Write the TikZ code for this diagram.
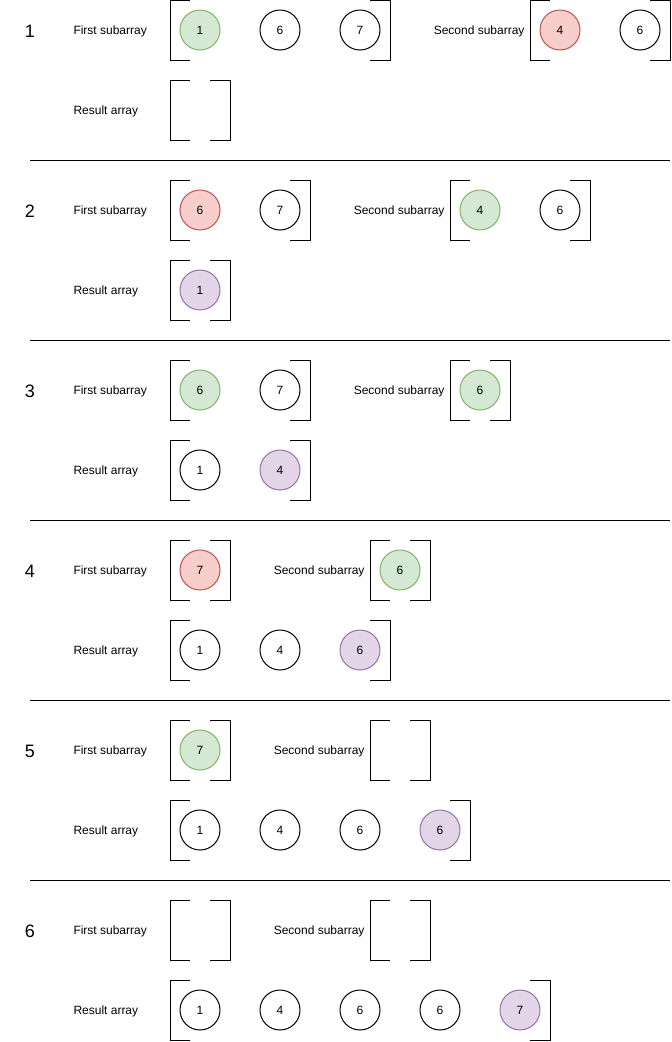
\documentclass[tikz,border=0pt]{standalone}
\usepackage{fontspec}
\setmainfont{Liberation Sans}
\usetikzlibrary{positioning}
\definecolor{pickfill}{HTML}{F8CECC}
\definecolor{pickline}{HTML}{B85450}
\definecolor{nextfill}{HTML}{D5E8D4}
\definecolor{nextline}{HTML}{82B366}
\definecolor{resfill}{HTML}{E1D5E7}
\definecolor{resline}{HTML}{9673A6}
% bracket pair round an array: left x, right x, middle y
\newcommand{\arrbox}[3]{%
  \draw (#1+20,#3-30) -| (#1,#3+30) -- (#1+20,#3+30);
  \draw (#2-20,#3-30) -| (#2,#3+30) -- (#2-20,#3+30);}

\begin{document}
\begin{tikzpicture}[x=1pt, y=-1pt, line width=1pt,
  every node/.style={font=\fontsize{12}{14}\selectfont},
  lbl/.style={inner sep=0pt, anchor=base west},
  lblr/.style={inner sep=0pt, anchor=base east},
  stepno/.style={inner sep=0pt, anchor=base, font=\fontsize{18}{20}\selectfont},
  elem/.style={circle, draw, minimum size=40pt, inner sep=0pt},
  pickel/.style={elem, fill=pickfill, draw=pickline},
  nextel/.style={elem, fill=nextfill, draw=nextline},
  resel/.style={elem, fill=resfill, draw=resline}]
\fill[white] (0,0) rectangle (672,1042);
\useasboundingbox (0,0) rectangle (672,1042);

% step 1
\node[stepno] (n1) at (30,37.5) {1};
\node[lbl] (s1first) at (73,34.3) {First subarray};
\arrbox{170}{390}{30}
\node[nextel] (s1a1) at (200,30) {1};
\node[elem] (s1a2) at (280,30) {6};
\node[elem] (s1a3) at (360,30) {7};
\node[lblr] (s1second) at (525,34.3) {Second subarray};
\arrbox{530}{670}{30}
\node[pickel] (s1b1) at (560,30) {4};
\node[elem] (s1b2) at (640,30) {6};
\node[lbl] (s1res) at (73,114.3) {Result array};
\arrbox{170}{230}{110}
\draw (30,160) -- (670,160);

% step 2
\node[stepno] (n2) at (30,217.5) {2};
\node[lbl] (s2first) at (73,214.3) {First subarray};
\arrbox{170}{310}{210}
\node[pickel] (s2a1) at (200,210) {6};
\node[elem] (s2a2) at (280,210) {7};
\node[lblr] (s2second) at (445,214.3) {Second subarray};
\arrbox{450}{590}{210}
\node[nextel] (s2b1) at (480,210) {4};
\node[elem] (s2b2) at (560,210) {6};
\node[lbl] (s2res) at (73,294.3) {Result array};
\arrbox{170}{230}{290}
\node[resel] (s2r1) at (200,290) {1};
\draw (30,340) -- (670,340);

% step 3
\node[stepno] (n3) at (30,397.5) {3};
\node[lbl] (s3first) at (73,394.3) {First subarray};
\arrbox{170}{310}{390}
\node[nextel] (s3a1) at (200,390) {6};
\node[elem] (s3a2) at (280,390) {7};
\node[lblr] (s3second) at (445,394.3) {Second subarray};
\arrbox{450}{510}{390}
\node[nextel] (s3b1) at (480,390) {6};
\node[lbl] (s3res) at (73,474.3) {Result array};
\arrbox{170}{310}{470}
\node[elem] (s3r1) at (200,470) {1};
\node[resel] (s3r2) at (280,470) {4};
\draw (30,520) -- (670,520);

% step 4
\node[stepno] (n4) at (30,577.5) {4};
\node[lbl] (s4first) at (73,574.3) {First subarray};
\arrbox{170}{230}{570}
\node[pickel] (s4a1) at (200,570) {7};
\node[lblr] (s4second) at (365,574.3) {Second subarray};
\arrbox{370}{430}{570}
\node[nextel] (s4b1) at (400,570) {6};
\node[lbl] (s4res) at (73,654.3) {Result array};
\arrbox{170}{390}{650}
\node[elem] (s4r1) at (200,650) {1};
\node[elem] (s4r2) at (280,650) {4};
\node[resel] (s4r3) at (360,650) {6};
\draw (30,700) -- (670,700);

% step 5
\node[stepno] (n5) at (30,757.5) {5};
\node[lbl] (s5first) at (73,754.3) {First subarray};
\arrbox{170}{230}{750}
\node[nextel] (s5a1) at (200,750) {7};
\node[lblr] (s5second) at (365,754.3) {Second subarray};
\arrbox{370}{430}{750}
\node[lbl] (s5res) at (73,834.3) {Result array};
\arrbox{170}{470}{830}
\node[elem] (s5r1) at (200,830) {1};
\node[elem] (s5r2) at (280,830) {4};
\node[elem] (s5r3) at (360,830) {6};
\node[resel] (s5r4) at (440,830) {6};
\draw (30,880) -- (670,880);

% step 6
\node[stepno] (n6) at (30,937.5) {6};
\node[lbl] (s6first) at (73,934.3) {First subarray};
\arrbox{170}{230}{930}
\node[lblr] (s6second) at (365,934.3) {Second subarray};
\arrbox{370}{430}{930}
\node[lbl] (s6res) at (73,1014.3) {Result array};
\arrbox{170}{550}{1010}
\node[elem] (s6r1) at (200,1010) {1};
\node[elem] (s6r2) at (280,1010) {4};
\node[elem] (s6r3) at (360,1010) {6};
\node[elem] (s6r4) at (440,1010) {6};
\node[resel] (s6r5) at (520,1010) {7};
\end{tikzpicture}
\end{document}
